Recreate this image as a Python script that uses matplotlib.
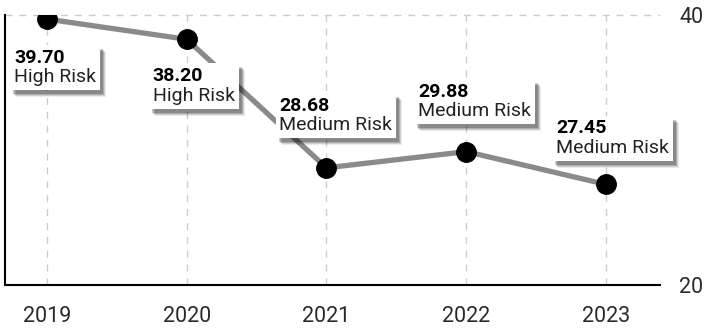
import matplotlib
matplotlib.use('Agg')
from matplotlib import pyplot as plt

years = [2019, 2020, 2021, 2022, 2023]
scores = [39.70, 38.20, 28.68, 29.88, 27.45]
risk = ['High Risk', 'High Risk', 'Medium Risk', 'Medium Risk', 'Medium Risk']
y_ticks = [20, 40]

# label placement (pixels from the point)
label_offsets = [(-33, -30), (-34, -28), (-47, 71), (-48, 69), (-50, 65)]

plt.rcParams['font.family'] = ['Roboto', 'DejaVu Sans']

fig = plt.figure(figsize=(7.05, 3.29), dpi=100)
ax = fig.add_axes([5/705, 1 - 285/329, 655/705, 270/329])

ax.plot(years, scores, color='#8a8a8a', lw=3.8, zorder=3,
        marker='o', ms=14, mfc='black', mec='black')

ax.set_xlim(2018.7, 2023.386)
ax.set_ylim(20, 40)
ax.set_xticks(years)
ax.set_yticks(y_ticks)
ax.yaxis.tick_right()
ax.tick_params(axis='both', length=0, labelsize=15.5, colors='#2a2a2a')
ax.tick_params(axis='x', pad=15)
ax.tick_params(axis='y', pad=14)

for s in ['top', 'right']:
    ax.spines[s].set_visible(False)
for s in ['left', 'bottom']:
    ax.spines[s].set_color('black')
    ax.spines[s].set_linewidth(1.5)

for yr in years:
    ax.axvline(yr, color='#cccccc', lw=1, ls=(0, (5, 5)), zorder=0)
ax.axhline(40, color='#cccccc', lw=1, ls=(0, (5, 5)), zorder=0, clip_on=False)

fs = 14
for yr, v, r, (dx, dy) in zip(years, scores, risk, label_offsets):
    txt = f'{v:.2f}\n{r}'
    # soft drop shadow: a few stacked grey boxes
    for k, a in [(6, 0.08), (5, 0.12), (4, 0.16), (3, 0.2)]:
        ax.annotate(txt, (yr, v), xytext=(dx + k, dy - k - 1), textcoords='offset pixels',
                    ha='left', va='top', fontsize=fs, color='none', linespacing=1.1,
                    bbox=dict(boxstyle='square,pad=0.2', fc=(0, 0, 0, a), ec='none'),
                    zorder=4)
    ax.annotate(txt, (yr, v), xytext=(dx, dy), textcoords='offset pixels',
                ha='left', va='top', fontsize=fs, color='none', linespacing=1.1,
                bbox=dict(boxstyle='square,pad=0.2', fc='white', ec='none'), zorder=5)
    ax.annotate(f'{v:.2f}', (yr, v), xytext=(dx, dy), textcoords='offset pixels',
                ha='left', va='top', fontsize=fs, fontweight='bold', color='black',
                linespacing=1.1, zorder=6)
    ax.annotate(f'\n{r}', (yr, v), xytext=(dx, dy), textcoords='offset pixels',
                ha='left', va='top', fontsize=fs, color='#222222',
                linespacing=1.1, zorder=6)

fig.savefig('out.png', dpi=100, facecolor='white')
